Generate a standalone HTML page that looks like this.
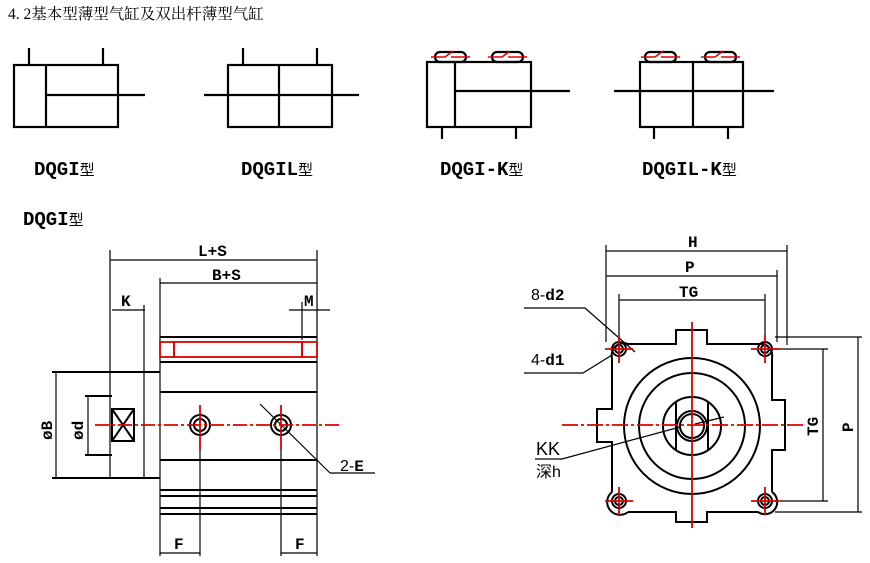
<!DOCTYPE html>
<html><head><meta charset="utf-8"><style>
html,body{margin:0;padding:0;background:#fff;}
svg{display:block;}
text{font-family:"Liberation Sans","Noto Sans CJK SC",sans-serif;fill:#000;}
.m{font-family:"Liberation Mono","Noto Sans CJK SC",monospace;font-weight:bold;}
</style></head><body>
<svg width="870" height="563" viewBox="0 0 870 563" xmlns="http://www.w3.org/2000/svg">
<text x="8" y="19" font-size="15.5" style="font-family:'Liberation Serif','Noto Serif CJK SC',serif">4. 2基本型薄型气缸及双出杆薄型气缸</text>
<g stroke="#000" stroke-width="2.2" fill="none">
<rect x="14" y="65" width="104" height="62"/><line x1="46" y1="65" x2="46" y2="127"/><line x1="46" y1="95" x2="145" y2="95"/>
<line x1="29" y1="48" x2="29" y2="65"/><line x1="103" y1="48" x2="103" y2="65"/>
<rect x="228" y="65" width="104" height="62"/><line x1="279" y1="65" x2="279" y2="127"/><line x1="204" y1="95" x2="359" y2="95"/>
<line x1="243" y1="48" x2="243" y2="65"/><line x1="317" y1="48" x2="317" y2="65"/>
<rect x="427" y="62" width="104" height="65"/><line x1="455" y1="62" x2="455" y2="127"/><line x1="455" y1="91" x2="570" y2="91"/>
<line x1="442" y1="127" x2="442" y2="139"/><line x1="516" y1="127" x2="516" y2="139"/>
<rect x="435" y="52" width="31" height="10" rx="5"/><rect x="492" y="52" width="31" height="10" rx="5"/>
<rect x="640" y="62" width="103" height="65"/><line x1="693" y1="62" x2="693" y2="127"/><line x1="614" y1="91" x2="774" y2="91"/>
<line x1="654" y1="127" x2="654" y2="139"/><line x1="728" y1="127" x2="728" y2="139"/>
<rect x="645" y="52" width="31" height="10" rx="5"/><rect x="705" y="52" width="31" height="10" rx="5"/>
</g>
<g stroke="#d00" stroke-width="1.5" fill="none">
<path d="M431 57H445L453 51M451 57H470"/><path d="M488 57H502L510 51M508 57H527"/>
<path d="M641 57H655L663 51M661 57H680"/><path d="M701 57H715L723 51M721 57H740"/>
</g>
<text class="m" x="34" y="175" font-size="19">DQGI<tspan font-size="15" font-weight="normal">型</tspan></text>
<text class="m" x="241" y="175" font-size="19">DQGIL<tspan font-size="15" font-weight="normal">型</tspan></text>
<text class="m" x="440" y="175" font-size="19">DQGI-K<tspan font-size="15" font-weight="normal">型</tspan></text>
<text class="m" x="642" y="175" font-size="19">DQGIL-K<tspan font-size="15" font-weight="normal">型</tspan></text>
<text class="m" x="23" y="225" font-size="19">DQGI<tspan font-size="15" font-weight="normal">型</tspan></text>

<g stroke="#000" stroke-width="1.2" fill="none">
<line x1="110" y1="250" x2="110" y2="478"/><line x1="317" y1="250" x2="317" y2="556"/>
<line x1="110" y1="260" x2="317" y2="260"/><line x1="160" y1="283" x2="317" y2="283"/>
<line x1="160" y1="278" x2="160" y2="556"/>
<line x1="112" y1="310" x2="145" y2="310"/><line x1="144" y1="305" x2="144" y2="478"/>
<line x1="289" y1="310" x2="330" y2="310"/><line x1="302" y1="302" x2="302" y2="340"/>
<line x1="56" y1="372" x2="56" y2="478"/><line x1="88" y1="396" x2="88" y2="455"/>
<line x1="200" y1="450" x2="200" y2="556"/><line x1="281" y1="450" x2="281" y2="556"/>
<line x1="160" y1="553" x2="200" y2="553"/><line x1="281" y1="553" x2="317" y2="553"/>
<line x1="260" y1="404" x2="330" y2="473"/><line x1="330" y1="473" x2="375" y2="473"/>
</g>
<g stroke="#000" stroke-width="2" fill="none">
<line x1="160" y1="337" x2="317" y2="337"/><line x1="160" y1="362" x2="317" y2="362"/>
<line x1="160" y1="392" x2="317" y2="392"/><line x1="160" y1="460" x2="317" y2="460"/>
<line x1="160" y1="490" x2="317" y2="490"/><line x1="160" y1="496" x2="317" y2="496"/>
<line x1="160" y1="508" x2="317" y2="508"/><line x1="160" y1="514" x2="317" y2="514"/>
<line x1="52" y1="372" x2="160" y2="372"/><line x1="52" y1="478" x2="160" y2="478"/>
<line x1="85" y1="396" x2="112" y2="396"/><line x1="85" y1="455" x2="112" y2="455"/>
<rect x="112" y="409" width="22" height="32"/><path d="M112 409L134 441M134 409L112 441"/>
<circle cx="200" cy="425" r="10"/><circle cx="200" cy="425" r="6"/>
<circle cx="281" cy="425" r="10"/><circle cx="281" cy="425" r="6"/>
</g>
<g stroke="#d00" stroke-width="1.8" fill="none">
<rect x="160" y="342" width="14" height="15"/><rect x="174" y="342" width="128" height="15"/><rect x="302" y="342" width="15" height="15"/>
<line x1="95" y1="425" x2="340" y2="425" stroke-dasharray="14 3 3 3"/>
<line x1="200" y1="405" x2="200" y2="450"/><line x1="281" y1="405" x2="281" y2="450"/>
</g>
<text class="m" x="198" y="256" font-size="16">L+S</text>
<text class="m" x="212" y="280" font-size="16">B+S</text>
<text class="m" x="121" y="306" font-size="16">K</text>
<text class="m" x="304" y="306" font-size="16">M</text>
<text class="m" x="174" y="549" font-size="16">F</text>
<text class="m" x="295" y="549" font-size="16">F</text>
<text x="340" y="471" font-size="16">2-<tspan class="m">E</tspan></text>
<text class="m" font-size="16" transform="translate(52,440) rotate(-90)">øB</text>
<text class="m" font-size="16" transform="translate(83,440) rotate(-90)">ød</text>

<g stroke="#000" stroke-width="1.2" fill="none">
<line x1="606" y1="245" x2="606" y2="342"/><line x1="787" y1="245" x2="787" y2="345"/>
<line x1="777" y1="270" x2="777" y2="342"/><line x1="619" y1="294" x2="619" y2="340"/><line x1="765" y1="294" x2="765" y2="340"/>
<line x1="606" y1="251" x2="787" y2="251"/><line x1="606" y1="276" x2="777" y2="276"/><line x1="619" y1="300" x2="765" y2="300"/>
<line x1="775" y1="337" x2="862" y2="337"/><line x1="775" y1="349" x2="828" y2="349"/>
<line x1="775" y1="501" x2="828" y2="501"/><line x1="775" y1="512" x2="862" y2="512"/>
<line x1="823" y1="349" x2="823" y2="501"/><line x1="858" y1="337" x2="858" y2="512"/>
<path d="M524 308H585L635 352"/><path d="M524 373H583L612 355"/>
<path d="M535 459H562L680 427"/><line x1="695" y1="424" x2="724" y2="417"/>
</g>
<g stroke="#000" stroke-width="2" fill="none">
<path d="M628 344H676V330H707V344H758 M612 358V409H597V442H612V492 M628 512H676V522H707V512H758 M772 358V400H785V450H772V492"/>
<path d="M628 344A12 12 0 0 0 612 358"/><path d="M758 344A12 12 0 0 1 772 358"/>
<path d="M612 492A12 12 0 0 0 628 512"/><path d="M772 492A12 12 0 0 1 758 512"/>
<circle cx="692" cy="426" r="68"/><circle cx="692" cy="426" r="53"/><circle cx="692" cy="426" r="29"/>
<circle cx="692" cy="426" r="15"/><circle cx="692" cy="426" r="12"/>
<line x1="676" y1="401" x2="676" y2="451"/><line x1="708" y1="401" x2="708" y2="451"/>
<circle cx="619" cy="349" r="7"/><circle cx="619" cy="349" r="4"/>
<circle cx="765" cy="349" r="7"/><circle cx="765" cy="349" r="4"/>
<circle cx="619" cy="501" r="7"/><circle cx="619" cy="501" r="4"/>
<circle cx="765" cy="501" r="7"/><circle cx="765" cy="501" r="4"/>
</g>
<g stroke="#d00" stroke-width="1.8" fill="none">
<line x1="562" y1="425" x2="805" y2="425" stroke-dasharray="16 3 3 3"/>
<line x1="692" y1="322" x2="692" y2="528"/>
<path d="M605 349H633M619 335V363M751 349H779M765 335V363M605 501H633M619 487V515M751 501H779M765 487V515"/>
</g>
<text class="m" x="688" y="247" font-size="16">H</text>
<text class="m" x="685" y="272" font-size="16">P</text>
<text class="m" x="679" y="297" font-size="16">TG</text>
<text x="531" y="300" font-size="16">8-<tspan class="m">d2</tspan></text>
<text x="531" y="365" font-size="16">4-<tspan class="m">d1</tspan></text>
<text x="536" y="455" font-size="18">KK</text>
<text x="536" y="477" font-size="16">深h</text>
<text class="m" font-size="16" transform="translate(818,436) rotate(-90)">TG</text>
<text class="m" font-size="16" transform="translate(853,432) rotate(-90)">P</text>
</svg>
</body></html>
